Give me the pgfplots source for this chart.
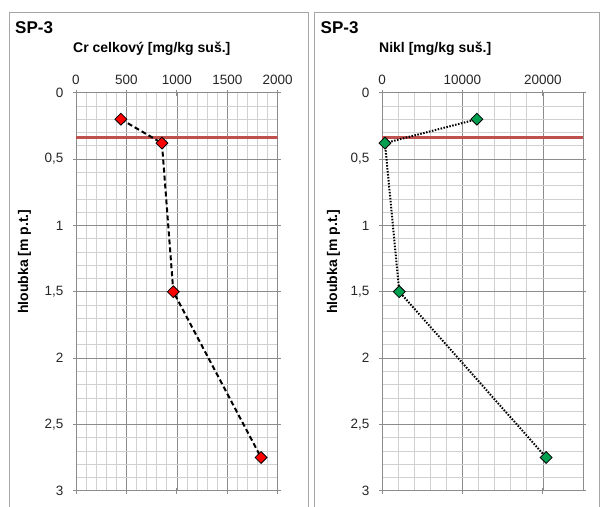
\documentclass[border=0pt]{standalone}
\usepackage{fontspec}
\setmainfont{Liberation Sans}
\usepackage{pgfplots}
\pgfplotsset{compat=1.18}

\definecolor{gridmaj}{HTML}{8C8C8C}
\definecolor{gridmin}{HTML}{D0D0D0}
\definecolor{framegray}{HTML}{A6A6A6}
\definecolor{limitred}{HTML}{C0504D}
\definecolor{ptgreen}{HTML}{00A050}

\pgfplotsset{
  profile/.style={
    scale only axis,
    height=398bp,
    y dir=reverse,
    ymin=0, ymax=3,
    ytick={0,0.5,...,3},
    xmin=0,
    xticklabel pos=upper,
    tick align=center,
    major tick length=6bp,
    minor tick length=0bp,
    minor x tick num=4,
    minor y tick num=4,
    grid=both,
    major grid style={gridmaj, line width=0.6bp},
    minor grid style={gridmin, line width=0.6bp},
    axis line style={gridmaj, line width=0.8bp},
    tick style={gridmaj, line width=0.8bp},
    scaled x ticks=false,
    /pgf/number format/.cd, use comma, 1000 sep={}, assume math mode=true,
    /pgfplots/.cd,
    ticklabel style={font=\fontsize{13.5bp}{16bp}\selectfont, text=black!85},
    yticklabel style={xshift=-6bp},
    xticklabel style={yshift=2bp},
  },
}

\begin{document}
\begin{tikzpicture}
\clip (0,0) rectangle (601bp,507bp);
\path[use as bounding box] (0,0) rectangle (601bp,507bp);

% panel frames
\draw[framegray, line width=0.8bp] (9bp,-5bp) rectangle (308bp,494.3bp);
\draw[framegray, line width=0.8bp] (314bp,-5bp) rectangle (599.5bp,494.3bp);

% titles
\node[anchor=base west, inner sep=0] at (15bp,473.7bp) {\fontsize{17bp}{20bp}\selectfont\bfseries SP-3};
\node[anchor=base west, inner sep=0] at (73bp,454.7bp) {\fontsize{14bp}{17bp}\selectfont\bfseries Cr celkový [mg/kg suš.]};
\node[anchor=base west, inner sep=0] at (320.5bp,473.7bp) {\fontsize{17bp}{20bp}\selectfont\bfseries SP-3};
\node[anchor=base west, inner sep=0] at (379bp,454.7bp) {\fontsize{14bp}{17bp}\selectfont\bfseries Nikl [mg/kg suš.]};

% y labels
\node[rotate=90] at (24.5bp,245.3bp) {\fontsize{14bp}{17bp}\selectfont\bfseries hloubka [m p.t.]};
\node[rotate=90] at (333.5bp,245.3bp) {\fontsize{14bp}{17bp}\selectfont\bfseries hloubka [m p.t.]};

% Cr
\begin{axis}[profile, at={(76bp,16.3bp)}, anchor=south west,
  width=201.7bp, xmax=2000, xtick={0,500,...,2000}]
\addplot[limitred, line width=3bp] coordinates {(0,0.34) (2000,0.34)};
\addplot[black, line width=2bp, dash pattern=on 5bp off 3bp,
  mark=square*, mark size=4.2bp,
  mark options={solid, rotate=45, fill=red, draw=black, line width=0.8bp}]
  coordinates {(445,0.2) (852,0.38) (965,1.5) (1835,2.75)};
\end{axis}

% Nikl
\begin{axis}[profile, at={(382bp,16.3bp)}, anchor=south west,
  width=201bp, xmax=25000, xtick={0,10000,20000}]
\addplot[limitred, line width=3bp] coordinates {(0,0.34) (25000,0.34)};
\addplot[black, line width=2bp, dash pattern=on 1.5bp off 1.5bp,
  mark=square*, mark size=4.2bp,
  mark options={solid, rotate=45, fill=ptgreen, draw=black, line width=0.8bp}]
  coordinates {(11800,0.2) (370,0.38) (2150,1.5) (20420,2.75)};
\end{axis}
\end{tikzpicture}
\end{document}
